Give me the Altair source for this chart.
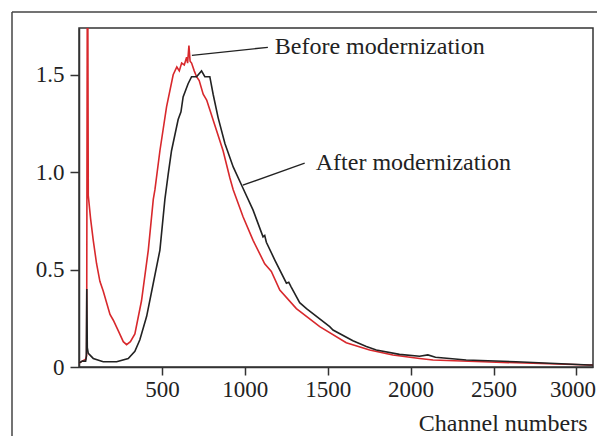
import altair as alt
import pandas as pd

# Series
before_ch = [0, 20, 40, 46, 50, 53, 56, 70, 86, 106, 126, 146, 187, 207, 240, 267, 287, 310, 337, 377, 418, 448, 458,
             488, 528, 568, 590, 605, 619, 635, 649, 655, 663, 670, 679, 695, 709, 725, 749, 770, 789, 829, 869,
             910, 930, 990, 1050, 1120, 1150, 1160, 1211, 1311, 1452, 1612, 1753, 1893, 2054, 2135, 2436,
             2737, 3078, 3100]
before_v = [0.02, 0.03, 0.04, 0.06, 1.9, 1.9, 0.88, 0.76, 0.65, 0.53, 0.44, 0.39, 0.27, 0.24, 0.18, 0.13, 0.115,
            0.13, 0.17, 0.34, 0.6, 0.86, 0.91, 1.11, 1.335, 1.50, 1.54, 1.52, 1.56, 1.55, 1.59, 1.56, 1.65, 1.57,
            1.56, 1.52, 1.49, 1.47, 1.40, 1.37, 1.32, 1.215, 1.11, 0.97, 0.91, 0.77, 0.65, 0.53, 0.50, 0.49,
            0.395, 0.30, 0.207, 0.125, 0.087, 0.062, 0.044, 0.036, 0.027, 0.019, 0.01, 0.01]

after_ch = [0, 20, 40, 44, 47, 50, 56, 86, 146, 227, 297, 337, 367, 408, 448, 488, 518, 538, 558, 598, 615, 628,
            658, 679, 709, 739, 759, 789, 809, 839, 880, 930, 985, 1050, 1110, 1120, 1130, 1181, 1251, 1265,
            1280, 1331, 1372, 1512, 1532, 1652, 1733, 1793, 1933, 2054, 2104, 2150, 2335, 2636, 3078, 3100]
after_v = [0.02, 0.03, 0.03, 0.05, 0.40, 0.10, 0.07, 0.044, 0.027, 0.027, 0.044, 0.08, 0.14, 0.26, 0.43, 0.60,
           0.86, 0.99, 1.11, 1.27, 1.31, 1.386, 1.454, 1.49, 1.49, 1.52, 1.49, 1.49, 1.40, 1.28, 1.147, 1.027,
           0.925, 0.805, 0.668, 0.675, 0.64, 0.549, 0.43, 0.435, 0.41, 0.33, 0.30, 0.207, 0.19, 0.135, 0.105,
           0.087, 0.065, 0.055, 0.062, 0.05, 0.036, 0.027, 0.01, 0.01]

labels = ["Before modernization", "After modernization"]
label_x = [1181, 1428]
label_y = [1.641, 1.046]
leader_x = [681, 988]
leader_y = [1.60, 0.933]
leader_x2 = [1139, 1361]
leader_y2 = [1.641, 1.046]

x_ticks = [500, 1000, 1500, 2000, 2500, 3000]
y_ticks = [0, 0.5, 1.0, 1.5]

SERIF = "'Liberation Serif', 'Times New Roman', Times, serif"
W, H = 514, 339
PAD_L, PAD_T, PAD_R, PAD_B = 71, 20, 4, 69

before_df = pd.DataFrame({"ch": before_ch, "v": before_v})
after_df = pd.DataFrame({"ch": after_ch, "v": after_v})
ann_df = pd.DataFrame({"label": labels, "x": label_x, "y": label_y,
                       "lx": leader_x, "ly": leader_y, "lx2": leader_x2, "ly2": leader_y2})

xs = alt.Scale(domain=[0, 3100], nice=False, zero=False)
ys = alt.Scale(domain=[0, 1.74], nice=False)

xax = alt.Axis(values=x_ticks, format="d", title="Channel numbers", grid=False, tickSize=8, tickColor="#333",
               domainColor="#333", domainWidth=1.5, tickWidth=1.5, labelFont=SERIF, labelFontSize=23,
               labelColor="#222", labelPadding=3, labelFlush=20, labelFlushOffset=19,
               titleFont=SERIF, titleFontSize=24, titleFontWeight="normal",
               titleColor="#222", titleAnchor="end", titleAlign="right", titleX=W - 6, titleY=63,
               titleBaseline="alphabetic")
yax = alt.Axis(values=y_ticks, title=None, grid=False, tickSize=9, tickColor="#333", domainColor="#333",
               domainWidth=1.5, tickWidth=1.5, labelFont=SERIF, labelFontSize=23, labelColor="#222",
               labelPadding=6, labelExpr="datum.value == 0 ? '0' : format(datum.value, '.1f')")

red = alt.Chart(before_df).mark_line(color="#d8282c", strokeWidth=1.6, clip=True).encode(
    x=alt.X("ch:Q", scale=xs, axis=xax), y=alt.Y("v:Q", scale=ys, axis=yax))
black = alt.Chart(after_df).mark_line(color="#222222", strokeWidth=1.6, clip=True).encode(
    x=alt.X("ch:Q", scale=xs), y=alt.Y("v:Q", scale=ys))

leaders = alt.Chart(ann_df).mark_rule(color="#222", strokeWidth=1.3).encode(
    x=alt.X("lx:Q", scale=xs), y=alt.Y("ly:Q", scale=ys), x2="lx2:Q", y2="ly2:Q")
texts = alt.Chart(ann_df).mark_text(align="left", baseline="middle", font=SERIF, fontSize=24,
                                    fontWeight="normal", color="#222").encode(
    x=alt.X("x:Q", scale=xs), y=alt.Y("y:Q", scale=ys), text="label:N")

# decorative outer frame (cropped figure border)
frame_v = alt.Chart(pd.DataFrame({"k": [0]})).mark_rule(color="#444", strokeWidth=1.5, clip=False).encode(
    x=alt.value(-67), y=alt.value(-16), y2=alt.value(H + PAD_B))
frame_h = alt.Chart(pd.DataFrame({"k": [0]})).mark_rule(color="#444", strokeWidth=1.5, clip=False).encode(
    x=alt.value(-67), x2=alt.value(W + PAD_R), y=alt.value(-16))

chart = alt.layer(red, black, leaders, texts, frame_v, frame_h).properties(
    width=W, height=H,
    autosize=alt.AutoSizeParams(type="none"),
    padding={"left": PAD_L, "top": PAD_T, "right": PAD_R, "bottom": PAD_B},
    background="white",
).configure(font=SERIF).configure_view(stroke="#333", strokeWidth=1.5)

chart.save("out.html", embed_options={"renderer": "svg", "actions": False})
